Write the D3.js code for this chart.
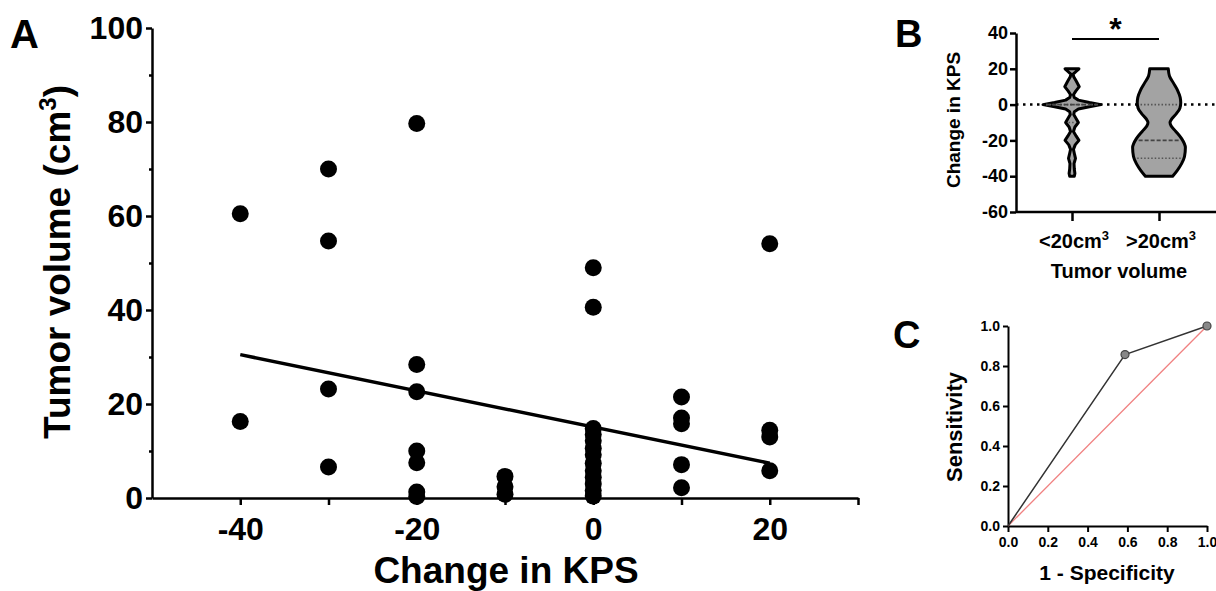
<!DOCTYPE html>
<html>
<head>
<meta charset="utf-8">
<script src="https://cdn.jsdelivr.net/npm/d3@7"></script>
<style>
  body { margin: 0; background: #fff; }
  svg text { font-family: "Liberation Sans", Arial, sans-serif; font-weight: bold; fill: #000; }
  .axis path, .axis line { stroke: #000; }
</style>
</head>
<body>
<svg id="fig" width="1216" height="591"></svg>
<script>
// ---- panel A data: tumor volume at each change in KPS
const kpsLevels = [-40, -30, -20, -10, 0, 10, 20];
const volumesByKps = [
  [60.5, 16.3],
  [70.0, 54.7, 23.2, 6.6],
  [79.7, 28.4, 22.6, 10.0, 7.5, 1.3, 0.3],
  [4.6, 2.4, 0.8],
  [49.0, 40.6, 14.8, 13.5, 12.2, 10.6, 9.2, 7.4, 5.8, 4.4, 3.0, 1.6, 0.4],
  [21.5, 17.0, 15.8, 7.1, 2.2],
  [54.1, 14.4, 13.0, 5.8],
];
const fitKps = [-40, 20];
const fitVolume = [30.5, 7.4];
const xTicksA = [-40, -20, 0, 20];
const xMinorA = [-30, -10, 10, 30];
const yTicksA = [0, 20, 40, 60, 80, 100];
const yMinorA = [10, 30, 50, 70, 90];

// ---- panel B data: violin outlines (kps, relative width)
const groups = ['<20cm³', '>20cm³'];
const smallKps = [20, 18.5, 17, 15.5, 13, 10, 7.5, 5.5, 4, 2.5, 1.2, 0, -1.2, -2.5, -4, -5.5, -8, -10, -12.5, -15, -17.5, -20, -22.5, -25, -28, -30, -33, -36, -38.5, -40];
const smallWidth = [0.24, 0.14, 0.04, 0.06, 0.15, 0.25, 0.13, 0.05, 0.08, 0.22, 0.6, 1.0, 0.6, 0.22, 0.08, 0.06, 0.15, 0.22, 0.1, 0.05, 0.14, 0.24, 0.11, 0.05, 0.09, 0.12, 0.07, 0.08, 0.1, 0.08];
const largeKps = [20, 16, 12, 8, 4, 1, -2, -5, -8, -10, -12, -15, -19, -24, -29, -33, -37, -40];
const largeWidth = [0.32, 0.36, 0.5, 0.64, 0.73, 0.75, 0.72, 0.6, 0.44, 0.38, 0.42, 0.58, 0.78, 0.91, 0.88, 0.78, 0.62, 0.47];
const groupMedian = [0, -20];
const groupQ1 = [-10, -30];
const groupQ3 = [0, 0];
const yTicksB = [-60, -40, -20, 0, 20, 40];

// ---- panel C data: ROC
const rocFpr = [0, 0.588, 1];
const rocTpr = [0, 0.857, 1];
const rocTicks = [0, 0.2, 0.4, 0.6, 0.8, 1.0];

const svg = d3.select('#fig');
const plain = d => String(d); // hyphen minus like the figure

// superscript helper for "cm³"
function supText(sel, str, supSize, shift) {
  const parts = str.split('³');
  sel.append('tspan').text(parts[0]);
  if (parts.length > 1) {
    sel.append('tspan').attr('font-size', supSize).attr('dy', -shift).text('3');
    sel.append('tspan').attr('dy', shift).text(parts[1]);
  }
}

// ================= panel A
const xA = d3.scaleLinear().domain([-50, 30]).range([152, 858]);
const yA = d3.scaleLinear().domain([0, 100]).range([498, 28]);

const gA = svg.append('g');

gA.append('g')
  .attr('class', 'axis')
  .attr('transform', 'translate(0,498)')
  .call(d3.axisBottom(xA).tickValues(xMinorA).tickSize(7).tickSizeOuter(0).tickFormat(''))
  .call(g => g.select('.domain').remove())
  .selectAll('line').attr('stroke-width', 2.5);

gA.append('g')
  .attr('class', 'axis')
  .attr('transform', 'translate(0,498)')
  .call(d3.axisBottom(xA).tickValues(xTicksA).tickFormat(plain).tickSize(7).tickSizeOuter(0).tickPadding(12))
  .call(g => g.selectAll('text').attr('font-size', 32).attr('font-family', null))
  .call(g => g.selectAll('path,line').attr('stroke-width', 2.5));

gA.append('g')
  .attr('class', 'axis')
  .attr('transform', 'translate(152,0)')
  .call(d3.axisLeft(yA).tickValues(yMinorA).tickSize(3).tickFormat(''))
  .call(g => g.select('.domain').remove())
  .selectAll('line').attr('stroke-width', 2.5);

gA.append('g')
  .attr('class', 'axis')
  .attr('transform', 'translate(152,0)')
  .call(d3.axisLeft(yA).tickValues(yTicksA).tickFormat(plain).tickSize(6).tickSizeOuter(0).tickPadding(3))
  .call(g => g.selectAll('text').attr('font-size', 32).attr('font-family', null))
  .call(g => g.selectAll('path,line').attr('stroke-width', 2.5));

// points
const pointsA = [];
kpsLevels.forEach((k, i) => {
  volumesByKps[i].forEach(v => pointsA.push({ kps: k, vol: v }));
});
gA.selectAll('circle.pt')
  .data(pointsA)
  .enter().append('circle')
  .attr('class', 'pt')
  .attr('cx', d => xA(d.kps))
  .attr('cy', d => yA(d.vol))
  .attr('r', 8.5)
  .attr('fill', '#000');

// fitted line
const fitLine = d3.line()
  .x((d, i) => xA(fitKps[i]))
  .y(d => yA(d));
gA.append('path')
  .datum(fitVolume)
  .attr('d', fitLine)
  .attr('fill', 'none')
  .attr('stroke', '#000')
  .attr('stroke-width', 3.5);

gA.append('text')
  .attr('x', 10).attr('y', 48)
  .attr('font-size', 40)
  .text('A');

gA.append('text')
  .attr('x', 506).attr('y', 583)
  .attr('text-anchor', 'middle')
  .attr('font-size', 37)
  .text('Change in KPS');

gA.append('text')
  .attr('transform', 'translate(70,262) rotate(-90)')
  .attr('text-anchor', 'middle')
  .attr('font-size', 37)
  .call(t => supText(t, 'Tumor volume (cm³)', 24, 14));

// ================= panel B
const yB = d3.scaleLinear().domain([-60, 40]).range([212, 33]);
const xB = d3.scalePoint().domain(groups).range([1072, 1159]);
const wB = d3.scaleLinear().domain([0, 1]).range([0, 29]);

const gB = svg.append('g');

// zero reference line
gB.append('line')
  .attr('x1', 1016).attr('x2', 1216)
  .attr('y1', yB(0)).attr('y2', yB(0))
  .attr('stroke', '#000')
  .attr('stroke-width', 2.5)
  .attr('stroke-dasharray', '2.5,4.5');

const violins = [
  { g: groups[0], kps: smallKps, w: smallWidth, curve: d3.curveLinear, sw: 3 },
  { g: groups[1], kps: largeKps, w: largeWidth, curve: d3.curveMonotoneY, sw: 3 },
];

violins.forEach((v, i) => {
  const cx = xB(v.g);
  const rows = v.kps.map((k, j) => ({ kps: k, w: v.w[j] }));
  const area = d3.area()
    .y(d => yB(d.kps))
    .x0(d => cx - wB(d.w))
    .x1(d => cx + wB(d.w))
    .curve(v.curve);
  gB.append('path')
    .datum(rows)
    .attr('d', area)
    .attr('fill', '#a3a3a3')
    .attr('stroke', '#000')
    .attr('stroke-width', v.sw)
    .attr('stroke-linejoin', 'round');

  // half width at a level, for the quartile lines
  const widthAt = k => {
    const j = d3.bisector(d => -d.kps).left(rows, -k);
    const a = rows[Math.max(0, j - 1)];
    const b = rows[Math.min(rows.length - 1, j)];
    if (a.kps === b.kps) return wB(a.w);
    const t = (k - a.kps) / (b.kps - a.kps);
    return wB(a.w + t * (b.w - a.w));
  };
  const lines = [
    { k: groupQ1[i], dash: '1.5,2', col: '#555' },
    { k: groupQ3[i], dash: '1.5,2', col: '#555' },
    { k: groupMedian[i], dash: '4,2', col: '#444' },
  ];
  lines.forEach(l => {
    const hw = widthAt(l.k) - v.sw;
    if (hw <= 1) return;
    gB.append('line')
      .attr('x1', cx - hw).attr('x2', cx + hw)
      .attr('y1', yB(l.k)).attr('y2', yB(l.k))
      .attr('stroke', l.col)
      .attr('stroke-width', 1.6)
      .attr('stroke-dasharray', l.dash);
  });
});

gB.append('g')
  .attr('class', 'axis')
  .attr('transform', 'translate(1016,0)')
  .call(d3.axisLeft(yB).tickValues(yTicksB).tickFormat(plain).tickSize(6).tickSizeOuter(0).tickPadding(2))
  .call(g => g.selectAll('text').attr('font-size', 18).attr('font-family', null))
  .call(g => g.selectAll('path,line').attr('stroke-width', 2.5));

gB.append('line')
  .attr('x1', 1016).attr('x2', 1216)
  .attr('y1', 212).attr('y2', 212)
  .attr('stroke', '#000')
  .attr('stroke-width', 2.5);

gB.append('g')
  .attr('class', 'axis')
  .attr('transform', 'translate(0,212)')
  .call(d3.axisBottom(xB).tickSize(9).tickSizeOuter(0).tickFormat(''))
  .call(g => g.select('.domain').remove())
  .selectAll('line').attr('stroke-width', 2.5);

groups.forEach(gr => {
  gB.append('text')
    .attr('x', xB(gr) + 2).attr('y', 248)
    .attr('text-anchor', 'middle')
    .attr('font-size', 20)
    .call(t => supText(t, gr, 13, 8));
});

gB.append('text')
  .attr('x', 1119).attr('y', 278)
  .attr('text-anchor', 'middle')
  .attr('font-size', 20)
  .text('Tumor volume');

gB.append('text')
  .attr('transform', 'translate(960,120) rotate(-90)')
  .attr('text-anchor', 'middle')
  .attr('font-size', 19)
  .text('Change in KPS');

// significance bar
gB.append('line')
  .attr('x1', xB(groups[0])).attr('x2', xB(groups[1]))
  .attr('y1', 39).attr('y2', 39)
  .attr('stroke', '#000')
  .attr('stroke-width', 2);
gB.append('text')
  .attr('x', (xB(groups[0]) + xB(groups[1])) / 2).attr('y', 40)
  .attr('text-anchor', 'middle')
  .attr('font-size', 32)
  .text('*');

gB.append('text')
  .attr('x', 895).attr('y', 47)
  .attr('font-size', 38)
  .text('B');

// ================= panel C
const xC = d3.scaleLinear().domain([0, 1]).range([1008, 1207]);
const yC = d3.scaleLinear().domain([0, 1]).range([526, 326]);

const gC = svg.append('g');

gC.append('g')
  .attr('class', 'axis')
  .attr('transform', 'translate(0,526)')
  .call(d3.axisBottom(xC).tickValues(rocTicks).tickFormat(d3.format('.1f')).tickSize(6).tickSizeOuter(0).tickPadding(5))
  .call(g => g.selectAll('text').attr('font-size', 14).attr('font-family', null))
  .call(g => g.selectAll('path,line').attr('stroke-width', 2));

gC.append('g')
  .attr('class', 'axis')
  .attr('transform', 'translate(1008,0)')
  .call(d3.axisLeft(yC).tickValues(rocTicks).tickFormat(d3.format('.1f')).tickSize(5).tickSizeOuter(0).tickPadding(3))
  .call(g => g.selectAll('text').attr('font-size', 14).attr('font-family', null))
  .call(g => g.selectAll('path,line').attr('stroke-width', 2));

// chance line
gC.append('line')
  .attr('x1', xC(0)).attr('y1', yC(0))
  .attr('x2', xC(1)).attr('y2', yC(1))
  .attr('stroke', '#f08080')
  .attr('stroke-width', 1.3);

const rocLine = d3.line()
  .x((d, i) => xC(rocFpr[i]))
  .y(d => yC(d));
gC.append('path')
  .datum(rocTpr)
  .attr('d', rocLine)
  .attr('fill', 'none')
  .attr('stroke', '#333')
  .attr('stroke-width', 1.5);

gC.selectAll('circle.roc')
  .data(rocTpr.filter((d, i) => rocFpr[i] > 0))
  .enter().append('circle')
  .attr('class', 'roc')
  .attr('cx', (d, i) => xC(rocFpr.filter(f => f > 0)[i]))
  .attr('cy', d => yC(d))
  .attr('r', 4)
  .attr('fill', '#888')
  .attr('stroke', '#444')
  .attr('stroke-width', 1.2);

gC.append('text')
  .attr('transform', 'translate(962,427) rotate(-90)')
  .attr('text-anchor', 'middle')
  .attr('font-size', 22)
  .text('Sensitivity');

gC.append('text')
  .attr('x', 1107).attr('y', 580)
  .attr('text-anchor', 'middle')
  .attr('font-size', 21)
  .text('1 - Specificity');

gC.append('text')
  .attr('x', 893).attr('y', 348)
  .attr('font-size', 38)
  .text('C');
</script>
</body>
</html>
